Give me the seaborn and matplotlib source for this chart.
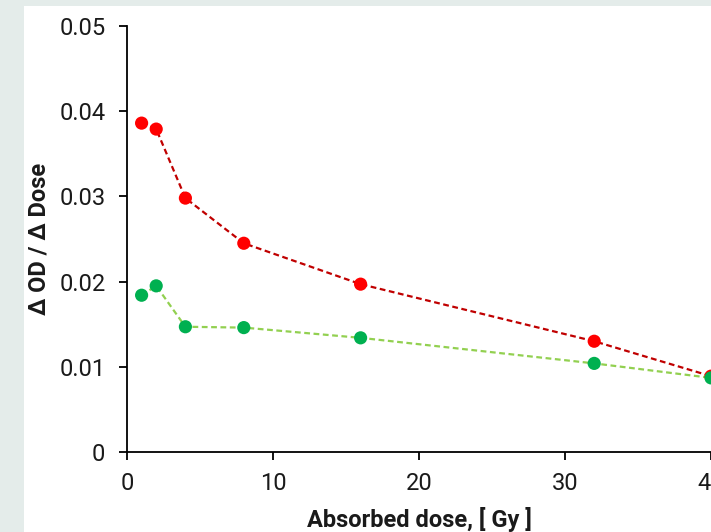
import matplotlib
matplotlib.use("Agg")
import matplotlib.pyplot as plt
import seaborn as sns
import pandas as pd
from matplotlib.patches import Rectangle

dose = [1, 2, 4, 8, 16, 32, 40]
red_vals = [0.0386, 0.0379, 0.0298, 0.0245, 0.0197, 0.0130, 0.0089]
green_vals = [0.0184, 0.0195, 0.0147, 0.0146, 0.0134, 0.0104, 0.0087]
x_ticks = [0, 10, 20, 30, 40]
y_ticks = [0, 0.01, 0.02, 0.03, 0.04, 0.05]
y_ticklabels = ["0", "0.01", "0.02", "0.03", "0.04", "0.05"]

df = pd.DataFrame({
    "dose": dose * 2,
    "val": red_vals + green_vals,
    "series": ["red"] * len(dose) + ["green"] * len(dose),
})

sns.set_theme(style="white")
plt.rcParams["font.family"] = ["Roboto", "DejaVu Sans"]

fig = plt.figure(figsize=(7.11, 5.32), dpi=100)
fig.patch.set_facecolor("#e4ecea")
fig.add_artist(Rectangle((24 / 711, 0), 1, (532 - 6) / 532, transform=fig.transFigure,
                         facecolor="white", edgecolor="none", zorder=0))
ax = fig.add_axes([127 / 711, 80 / 532, (711 - 127) / 711, (452 - 26) / 532])
ax.set_facecolor("none")

sns.lineplot(data=df, x="dose", y="val", hue="series",
             palette={"red": "#c00000", "green": "#92d050"},
             linestyle=(0, (2.6, 1.6)), linewidth=1.6, legend=False, ax=ax, zorder=2)
sns.scatterplot(data=df, x="dose", y="val", hue="series",
                palette={"red": "#ff0000", "green": "#00b050"},
                s=90, edgecolor="none", legend=False, ax=ax, zorder=3)

ax.set_xlim(0, 40)
ax.set_ylim(0, 0.05)
ax.set_xticks(x_ticks)
ax.set_yticks(y_ticks)
ax.set_yticklabels(y_ticklabels)
for s in ["top", "right"]:
    ax.spines[s].set_visible(False)
for s in ["left", "bottom"]:
    ax.spines[s].set_color("black")
    ax.spines[s].set_linewidth(1.3)
ax.tick_params(axis="both", bottom=True, left=True, direction="out", length=5.5,
               width=1.3, color="black", labelsize=17, labelcolor="#1a1a1a")
ax.tick_params(axis="y", pad=10)
ax.tick_params(axis="x", pad=9)
ax.set_xlabel("Absorbed dose, [ Gy ]", fontsize=17, fontweight="bold", color="#1a1a1a")
ax.set_ylabel("Δ OD / Δ Dose", fontsize=17, fontweight="bold", color="#1a1a1a")
ax.xaxis.label.set_va("center")
ax.yaxis.label.set_va("center")
ax.xaxis.set_label_coords((419 - 127) / (711 - 127), -(519 - 452) / (452 - 26))
ax.yaxis.set_label_coords(-(127 - 39) / (711 - 127), (452 - 239) / (452 - 26))

fig.savefig("out.png", dpi=100, facecolor=fig.get_facecolor())
